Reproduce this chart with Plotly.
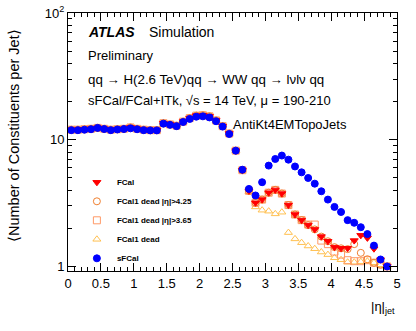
import plotly.graph_objects as go

eta = [round(0.05 + 0.1 * i, 2) for i in range(49)]

sfcal = [11.9, 11.9, 12.0, 12.1, 12.4, 12.15, 11.9, 12.05, 12.15, 12.3,
         12.1, 11.9, 11.85, 11.85, 13.4, 13.1, 12.8, 13.8, 14.6, 15.2,
         15.3, 15.0, 14.0, 12.7, 11.1, 8.2, 5.8, 4.09, 3.63, 4.62,
         6.25, 7.05, 7.5, 6.96, 6.15, 5.53, 4.99, 4.5, 3.92, 3.37,
         2.95, 2.69, 2.32, 2.21, 2.04, 1.8, 1.46, 1.135, 1.0]

fcal = [12.0, 12.0, 12.1, 12.2, 12.4, 12.2, 12.0, 12.1, 12.2, 12.5,
        12.2, 12.0, 11.9, 11.9, 13.5, 13.2, 12.9, 13.9, 14.8, 15.5,
        15.6, 15.3, 14.2, 12.8, 11.2, 8.2, 5.75, 3.95, 3.18, 3.37,
        3.82, 4.02, 3.76, 3.05, 2.57, 2.32, 2.12, 1.96, 1.72, 1.58,
        1.42, 1.39, 1.39, 1.6, 1.76, 1.68, 1.38, 1.13, 1.0]

dead425 = [12.0, 12.0, 12.1, 12.2, 12.4, 12.2, 12.0, 12.1, 12.2, 12.5,
           12.2, 12.0, 11.9, 11.9, 13.5, 13.2, 12.9, 13.9, 14.8, 15.5,
           15.6, 15.3, 14.2, 12.8, 11.2, 8.2, 5.75, 3.95, 3.18, 3.37,
           3.82, 4.02, 3.76, 3.05, 2.57, 2.32, 2.12, 1.96, 1.72, 1.58,
           1.42, 1.39, 1.37, 1.5, 1.28, 1.14, 1.07, 1.03, 1.0]

dead365 = [12.0, 12.0, 12.1, 12.2, 12.4, 12.2, 12.0, 12.1, 12.2, 12.5,
           12.2, 12.0, 11.9, 11.9, 13.5, 13.2, 12.9, 13.9, 14.8, 15.5,
           15.6, 15.3, 14.2, 12.8, 11.2, 8.2, 5.75, 3.95, 3.18, 3.37,
           3.82, 4.02, 3.76, 3.05, 2.57, 2.32, 2.14, 2.14, 1.6, 1.5,
           1.31, 1.24, 1.12, 1.1, 1.1, 1.12, 1.07, 1.04, 1.0]

dead = [12.0, 12.0, 12.1, 12.2, 12.4, 12.2, 12.0, 12.1, 12.2, 12.5,
        12.2, 12.0, 11.9, 11.9, 13.5, 13.2, 12.9, 13.9, 14.8, 15.5,
        15.6, 15.3, 14.2, 12.8, 11.2, 8.2, 5.75, 3.9, 2.95, 2.78,
        2.73, 2.6, 2.68, 1.85, 1.65, 1.54, 1.45, 1.38, 1.3, 1.24,
        1.17, 1.13, 1.08, 1.08, 1.09, 1.1, 1.07, 1.03, 1.0]

x_ticks = [0, 0.5, 1, 1.5, 2, 2.5, 3, 3.5, 4, 4.5, 5]
x_tick_text = ["0", "0.5", "1", "1.5", "2", "2.5", "3", "3.5", "4", "4.5", "5"]
y_ticks = [1, 10, 100]
y_tick_text = ["1", "10", "10<sup>2</sup>"]

FONT = "Liberation Sans, Arial, sans-serif"

fig = go.Figure()

series = [
    ("FCal1 dead", dead, "triangle-up-open", "#ffc050", 4),
    ("FCal1 dead |η|>3.65", dead365, "square-open", "#ff9966", 3),
    ("FCal1 dead |η|>4.25", dead425, "circle-open", "#f08030", 2),
    ("FCal", fcal, "triangle-down", "#ff0000", 1),
    ("sFCal", sfcal, "circle", "#0000ff", 5),
]
for name, vals, sym, col, rank in series:
    fig.add_trace(go.Scatter(
        x=eta, y=vals, mode="markers", name=name, legendrank=rank,
        marker=dict(symbol=sym, color=col, size=7,
                    line=dict(color=col, width=1)),
    ))

# plot area at x 68..397, y 13..271 of the 416x331 page
fig.update_layout(
    width=416, height=331,
    margin=dict(l=68, r=19, t=13, b=60),
    paper_bgcolor="white", plot_bgcolor="white",
    font=dict(family=FONT, size=13, color="black"),
    showlegend=True,
    legend=dict(
        x=0.027, y=0.40, xanchor="left", yanchor="top",
        bgcolor="rgba(0,0,0,0)",
        font=dict(family=FONT, size=8, color="black", weight="bold"),
        traceorder="normal", itemwidth=30,
    ),
    xaxis=dict(
        range=[0, 5.0001], showgrid=False, zeroline=False, automargin=False,
        showline=True, linecolor="black", linewidth=1, mirror="ticks",
        ticks="inside", ticklen=8, tickcolor="black",
        tickvals=x_ticks, ticktext=x_tick_text, ticklabeloverflow="allow",
        tickfont=dict(family=FONT, size=13),
        minor=dict(ticks="inside", ticklen=4, dtick=0.1, tick0=0,
                   tickcolor="black", showgrid=False),
    ),
    yaxis=dict(
        type="log", range=[-0.036, 2.0002], showgrid=False, zeroline=False,
        automargin=False,
        showline=True, linecolor="black", linewidth=1, mirror="ticks",
        ticks="inside", ticklen=8, tickcolor="black",
        tickvals=y_ticks, ticktext=y_tick_text, ticklabeloverflow="allow",
        tickfont=dict(family=FONT, size=13),
        minor=dict(ticks="inside", ticklen=4, tickcolor="black",
                   tickvals=[2, 3, 4, 5, 6, 7, 8, 9, 20, 30, 40, 50, 60, 70, 80, 90],
                   showgrid=False),
    ),
)

ann = [
    dict(text="<b><i>ATLAS</i></b>", x=86, y=32, size=14),
    dict(text="Simulation", x=147, y=32, size=14),
    dict(text="Preliminary", x=86, y=55, size=13),
    dict(text="qq → H(2.6 TeV)qq → WW qq → lνlν qq", x=86, y=79, size=13.3),
    dict(text="sFCal/FCal+ITk, √s = 14 TeV, μ = 190-210", x=86, y=101, size=13),
    dict(text="AntiKt4EMTopoJets", x=231, y=124, size=13),
]
for a in ann:
    fig.add_annotation(
        text=a["text"], xref="paper", yref="paper",
        x=(a["x"] - 68) / 329, y=1 - (a["y"] - 13) / 258,
        xanchor="left", yanchor="middle", showarrow=False,
        font=dict(family=FONT, size=a["size"], color="black"),
    )

fig.add_annotation(
    text="⟨Number of Constituents per Jet⟩", textangle=-90,
    xref="paper", yref="paper", x=0, y=0.5, xshift=-54, yshift=6,
    xanchor="center", yanchor="middle", showarrow=False,
    font=dict(family=FONT, size=14.5, color="black"),
)
fig.add_annotation(
    text="|η|<sub>jet</sub>", xref="paper", yref="paper",
    x=1, y=0, xanchor="right", yanchor="middle", yshift=-36,
    showarrow=False, font=dict(family=FONT, size=13, color="black"),
)

fig.write_html(
    "out.html",
    config={"displayModeBar": False},
    post_script="document.body.style.margin='0px';document.body.style.overflow='hidden';",
)
